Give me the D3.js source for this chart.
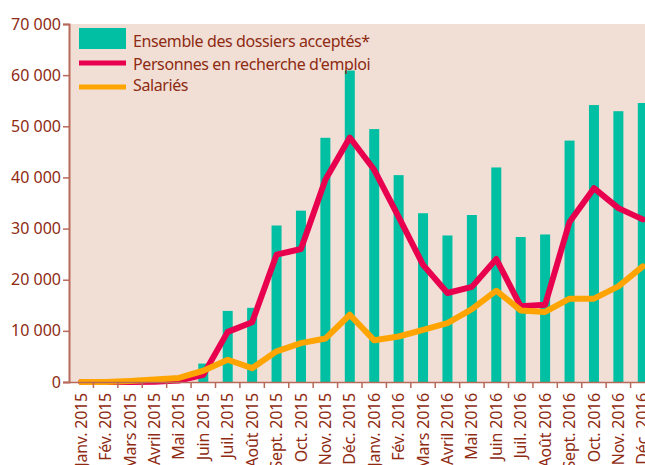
<!DOCTYPE html>
<html>
<head>
<meta charset="utf-8">
<script src="https://cdn.jsdelivr.net/npm/d3@7"></script>
<style>
  body { margin: 0; background: #fff; }
  text { font-family: "Noto Sans", "Open Sans", sans-serif; fill: #8e2b12; }
</style>
</head>
<body>
<svg id="chart" width="645" height="465"></svg>
<script>
const months = ["Janv. 2015", "Fév. 2015", "Mars 2015", "Avril 2015", "Mai 2015", "Juin 2015",
  "Juil. 2015", "Août 2015", "Sept. 2015", "Oct. 2015", "Nov. 2015", "Déc. 2015",
  "Janv. 2016", "Fév. 2016", "Mars 2016", "Avril 2016", "Mai 2016", "Juin 2016",
  "Juil. 2016", "Août 2016", "Sept. 2016", "Oct. 2016", "Nov. 2016", "Déc. 2016"];

// Ensemble des dossiers acceptés*
const dossiers = [0, 0, 0, 200, 1200, 3600, 13900, 14500, 30600, 33500, 47750, 60900,
  49450, 40450, 33000, 28650, 32650, 41950, 28350, 28850, 47200, 54150, 52950, 54550];
// Personnes en recherche d'emploi
const demandeurs = [0, 0, 0, 50, 300, 1400, 9800, 11700, 24900, 26000, 39550, 47800,
  41500, 32300, 22900, 17400, 18600, 24050, 14800, 15100, 31300, 37900, 34000, 31800];
// Salariés
const salaries = [0, 0, 200, 500, 800, 2200, 4350, 2700, 6000, 7600, 8500, 13150,
  8150, 8900, 10200, 11500, 14250, 17850, 14000, 13700, 16300, 16300, 18700, 22600];

const yTicks = [0, 10000, 20000, 30000, 40000, 50000, 60000, 70000];

const svg = d3.select("#chart");
const margin = { top: 24, left: 69 };
const plotH = 358;
const plotW = 586;

const x = d3.scaleBand().domain(months).range([margin.left, margin.left + plotW]);
const y = d3.scaleLinear().domain([0, 70000]).range([margin.top + plotH, margin.top]);

// background
svg.append("rect")
  .attr("x", margin.left).attr("y", margin.top)
  .attr("width", plotW).attr("height", plotH)
  .attr("fill", "#f1dfd6");

// bars
svg.append("g").selectAll("rect")
  .data(dossiers)
  .join("rect")
  .attr("x", (d, i) => x(months[i]) + x.bandwidth() / 2 - 5)
  .attr("width", 10)
  .attr("y", d => y(d))
  .attr("height", d => y(0) - y(d))
  .attr("fill", "#00bfa2");

const line = d3.line()
  .x((d, i) => x(months[i]) + x.bandwidth() / 2)
  .y(d => y(d));

svg.append("path")
  .datum(demandeurs)
  .attr("fill", "none")
  .attr("stroke", "#e8004f")
  .attr("stroke-width", 6)
  .attr("stroke-linejoin", "round")
  .attr("stroke-linecap", "round")
  .attr("d", line);

svg.append("path")
  .datum(salaries)
  .attr("fill", "none")
  .attr("stroke", "#ffa400")
  .attr("stroke-width", 6)
  .attr("stroke-linejoin", "round")
  .attr("stroke-linecap", "round")
  .attr("d", line);

// y axis
const yAxis = svg.append("g")
  .attr("transform", `translate(${margin.left},0)`)
  .call(d3.axisLeft(y).tickValues(yTicks).tickSize(6).tickPadding(2)
    .tickFormat(d => d3.format(",")(d).replace(/,/g, " ")));
yAxis.select(".domain").attr("stroke", "#b86a5a").attr("stroke-width", 2);
yAxis.selectAll(".tick line").attr("stroke", "#b86a5a").attr("stroke-width", 1.5);
yAxis.selectAll(".tick text").attr("font-size", 16).attr("fill", "#8e2b12");

// x axis
const xAxis = svg.append("g")
  .attr("transform", `translate(0,${margin.top + plotH})`)
  .call(d3.axisBottom(x).tickSize(0).tickPadding(0));
xAxis.select(".domain").attr("stroke", "#b86a5a").attr("stroke-width", 1.5);
xAxis.selectAll(".tick text")
  .attr("font-size", 16)
  .attr("letter-spacing", "-0.2px")
  .attr("fill", "#8e2b12")
  .attr("transform", "rotate(-90)")
  .attr("text-anchor", "end")
  .attr("x", -11)
  .attr("y", 0)
  .attr("dy", "0.35em");
// tick marks at band boundaries
xAxis.append("g").selectAll("line")
  .data(months.slice(1))
  .join("line")
  .attr("x1", d => x(d)).attr("x2", d => x(d))
  .attr("y1", 0).attr("y2", 6)
  .attr("stroke", "#b86a5a").attr("stroke-width", 1.5);

// legend
const legend = svg.append("g");
legend.append("rect")
  .attr("x", 79).attr("y", 28).attr("width", 47).attr("height", 21)
  .attr("fill", "#00bfa2");
legend.append("line")
  .attr("x1", 79).attr("x2", 126).attr("y1", 63).attr("y2", 63)
  .attr("stroke", "#e8004f").attr("stroke-width", 5);
legend.append("line")
  .attr("x1", 79).attr("x2", 126).attr("y1", 87).attr("y2", 87)
  .attr("stroke", "#ffa400").attr("stroke-width", 5);
const legendLabels = ["Ensemble des dossiers acceptés*", "Personnes en recherche d'emploi", "Salariés"];
const legendY = [47, 69.5, 91];
legend.selectAll("text")
  .data(legendLabels)
  .join("text")
  .attr("x", 133)
  .attr("y", (d, i) => legendY[i])
  .attr("font-size", 16)
  .attr("letter-spacing", "-0.4px")
  .text(d => d);
</script>
</body>
</html>
